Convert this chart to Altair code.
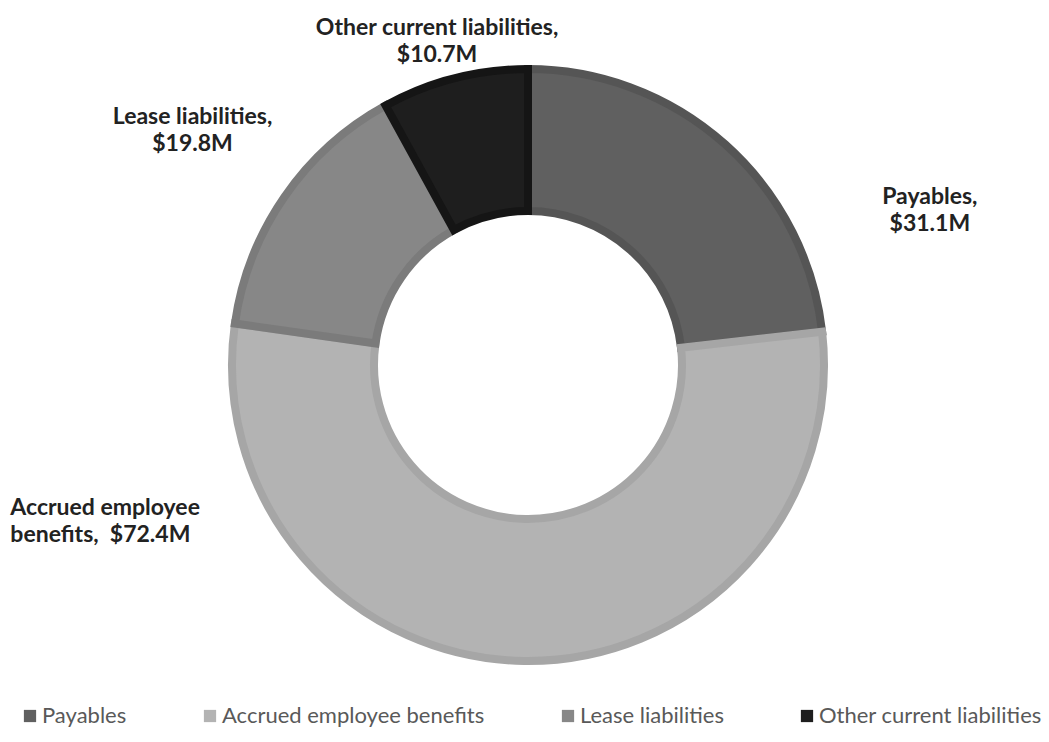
import math
import altair as alt
import pandas as pd

# ---- data ----
categories = ["Payables", "Accrued employee benefits", "Lease liabilities", "Other current liabilities"]
values = [31.1, 72.4, 19.8, 10.7]
label_texts = [
    "Payables,\n$31.1M",
    "Accrued employee\n\u00a0benefits,\u00a0 $72.4M",
    "Lease liabilities,\n$19.8M",
    "Other current liabilities,\n$10.7M",
]
fill_colors = ["#606060", "#b3b3b3", "#878787", "#1e1e1e"]
stroke_colors = ["#555555", "#a6a6a6", "#7b7b7b", "#151515"]

total = sum(values)
df = pd.DataFrame({
    "category": categories,
    "value": values,
    "label": label_texts,
    "order": list(range(len(categories))),
})
df["mid"] = df["value"].cumsum() - df["value"] / 2

theta_scale = alt.Scale(domain=[0, total], range=[0, 2 * math.pi])

base = alt.Chart(df)

arcs = base.mark_arc(innerRadius=154, outerRadius=296, strokeWidth=8).encode(
    theta=alt.Theta("value:Q", stack=True, scale=theta_scale),
    color=alt.Color(
        "category:N",
        sort=categories,
        scale=alt.Scale(domain=categories, range=fill_colors),
        legend=alt.Legend(
            orient="none",
            legendX=12,
            legendY=705,
            direction="horizontal",
            title=None,
            symbolType="square",
            symbolSize=150,
            symbolStrokeWidth=0,
            labelFont="Lato",
            labelFontSize=22,
            labelColor="#595959",
            labelLimit=0,
            columnPadding=72,
            labelOffset=1,
            symbolOffset=0,
        ),
    ),
    stroke=alt.Stroke(
        "category:N",
        sort=categories,
        scale=alt.Scale(domain=categories, range=stroke_colors),
        legend=None,
    ),
    order=alt.Order("order:Q"),
)

# per-label placement (radius + offsets), following the reference's label placement
label_style = {
    "Payables": (182, 78, "center"),
    "Accrued employee benefits": (-513, -187, "left"),
    "Lease liabilities": (-64, -60, "center"),
    "Other current liabilities": (-9, -17, "center"),
}

layers = [arcs]
for cat in categories:
    dx, dy, al = label_style[cat]
    layers.append(
        base.transform_filter(alt.datum.category == cat)
        .mark_text(
            radius=330,
            dx=dx,
            dy=dy,
            align=al,
            baseline="middle",
            lineBreak="\n",
            font="Lato",
            fontSize=23,
            fontWeight="bold",
            color="#222222",
            lineHeight=27,
        )
        .encode(
            theta=alt.Theta("mid:Q", stack=None, scale=theta_scale),
            text="label:N",
        )
    )

chart = alt.layer(*layers).properties(
    width=1042,
    height=730,
    autosize=alt.AutoSizeParams(type="none"),
    padding={"left": 7, "top": 0, "right": 0, "bottom": 12},
    background="white",
).configure_view(stroke=None)

chart.save("out.html", embed_options={"renderer": "svg", "actions": False})
